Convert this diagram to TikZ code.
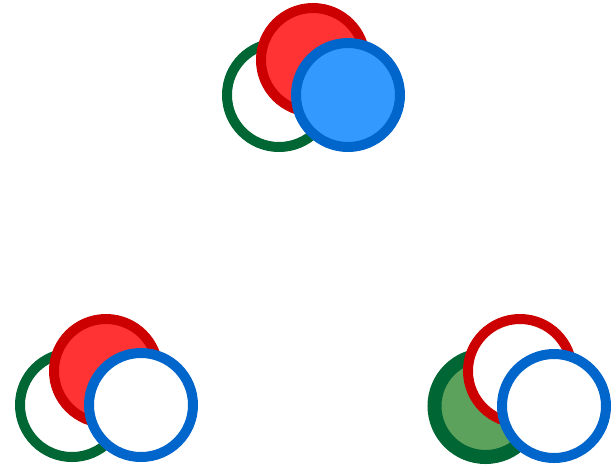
\documentclass[tikz,border=0pt]{standalone}
\definecolor{gstroke}{RGB}{0,102,51}
\definecolor{gfill}{RGB}{92,161,92}
\definecolor{rstroke}{RGB}{204,0,0}
\definecolor{rfill}{RGB}{255,51,51}
\definecolor{bstroke}{RGB}{0,102,204}
\definecolor{bfill}{RGB}{51,153,255}
\tikzset{
  ring/.style={line width=10pt},
  gring/.style={ring,draw=gstroke,fill=white},
  gdisc/.style={line width=14pt,draw=gstroke,fill=gfill},
  rring/.style={ring,draw=rstroke,fill=white},
  rdisc/.style={ring,draw=rstroke,fill=rfill},
  bring/.style={ring,draw=bstroke,fill=white},
  bdisc/.style={ring,draw=bstroke,fill=bfill},
}
\begin{document}
\begin{tikzpicture}[x=1pt,y=-1pt]
\useasboundingbox (0,0) rectangle (611,467);
% top group
\path[gring] (279,95) circle (52);
\path[rdisc] (313,60) circle (52);
\path[bdisc] (348,95) circle (52);
% bottom-left group
\path[gring] (72,405) circle (52);
\path[rdisc] (106,371) circle (52);
\path[bring] (141,405) circle (52);
% bottom-right group
\path[gdisc] (485.5,406) circle (51);
\path[rring] (520,371) circle (52);
\path[bring] (554,406) circle (52);
\end{tikzpicture}
\end{document}
